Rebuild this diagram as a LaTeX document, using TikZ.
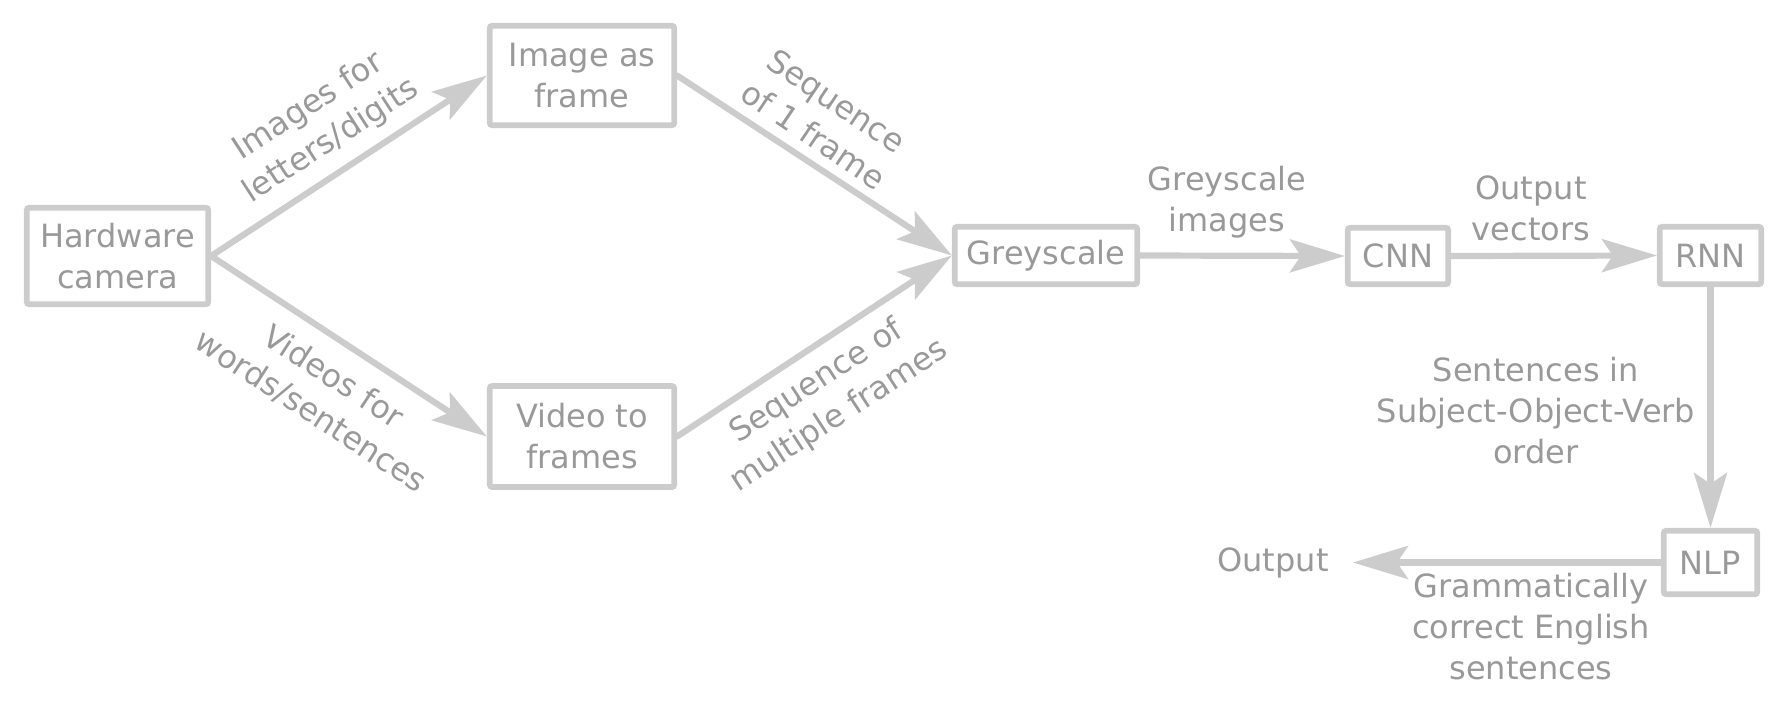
\documentclass[tikz,border=0pt]{standalone}
\usepackage{fontspec}
\setmainfont{DejaVu Sans}
\usetikzlibrary{arrows.meta}
\definecolor{edgegrey}{HTML}{CCCCCC}
\definecolor{textgrey}{HTML}{999999}
\begin{document}
\begin{tikzpicture}[x=0.5pt,y=-0.5pt,
  every node/.style={font=\fontsize{16pt}{20.5pt}\selectfont, text=textgrey, align=center},
  box/.style={draw=edgegrey, line width=2.9pt, rounded corners=1.2pt, inner sep=0pt},
  arr/.style={draw=edgegrey, line width=3.1pt, line cap=round, -{Stealth[length=27.5pt,width=16.5pt,inset=5.5pt]}},
  lbl/.style={inner sep=0pt}]
\useasboundingbox (0,0) rectangle (1788,701);
% boxes
\node[box, minimum width=90.7pt, minimum height=48.2pt] (hw) at (117.5,256) {Hardware\\camera};
\node[box, minimum width=92.2pt, minimum height=49.7pt] (img) at (582,75.5) {Image as\\frame};
\node[box, minimum width=92.2pt, minimum height=50.5pt] (vid) at (582,436.5) {Video to\\frames};
\node[box, minimum width=91.2pt, minimum height=28.7pt] (grey) at (1046,255.5) {Greyscale};
\node[box, minimum width=50.2pt, minimum height=28.2pt] (cnn) at (1398,256) {CNN};
\node[box, minimum width=50.7pt, minimum height=28.7pt] (rnn) at (1710.5,255.5) {RNN};
\node[box, minimum width=46.7pt, minimum height=31.7pt] (nlp) at (1710.5,562.5) {NLP};
\node[inner xsep=12pt, inner ysep=0pt] (out) at (1273,562.5) {Output};
% connectors
\draw[arr] (hw.east) -- (img.west);
\draw[arr] (hw.east) -- (vid.west);
\draw[arr] (img.east) -- (grey.west);
\draw[arr] (vid.east) -- (grey.west);
\draw[arr] (grey.east) -- (cnn.west);
\draw[arr] (cnn.east) -- (rnn.west);
\draw[arr] (rnn.south) -- (nlp.north);
\draw[arr] (nlp.west) -- (out.east);
% labels
\node[lbl, rotate=33] (l1) at (320,124) {Images for\\letters/digits};
\node[lbl, rotate=-33] (l2) at (322,394) {Videos for\\words/sentences};
\node[lbl, rotate=-34] (l3) at (825,118) {Sequence\\of 1 frame};
\node[lbl, rotate=33] (l4) at (828,399) {Sequence of\\multiple frames};
\node[lbl] (l5) at (1227,202) {Greyscale\\images};
\node[lbl] (l6) at (1531,208) {Output\\vectors};
\node[lbl] (l7) at (1536,411) {Sentences in\\Subject-Object-Verb\\order};
\node[lbl] (l8) at (1531,627) {Grammatically\\correct English\\sentences};
\end{tikzpicture}
\end{document}
